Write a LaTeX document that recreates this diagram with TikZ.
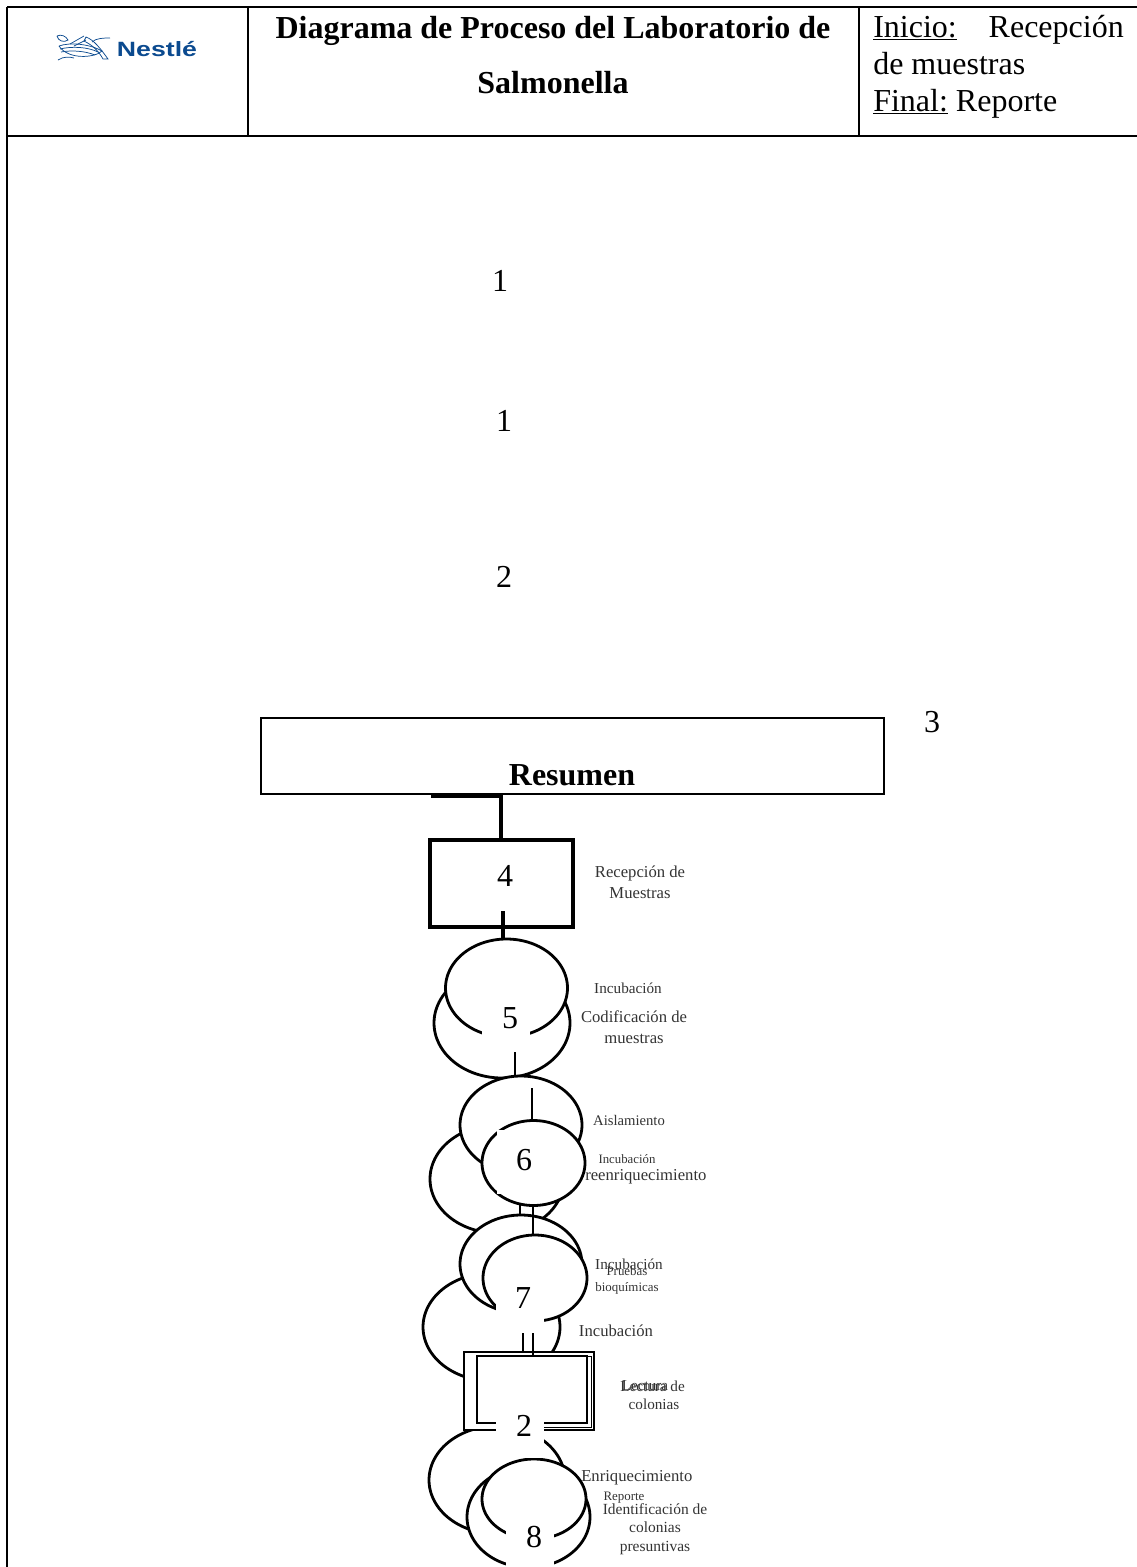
\documentclass[tikz,border=0pt]{standalone}
\usepackage{fontspec}
\setmainfont{Liberation Serif}
\newfontfamily\logofont{Liberation Sans}
\definecolor{nestleblue}{HTML}{0B4A8F}
\definecolor{captiongray}{HTML}{333333}
\tikzset{
  x=0.75pt,y=-0.75pt,
  frame/.style={line width=1.9pt,black},
  flow/.style={line width=2.1pt,black},
  thinflow/.style={line width=1.6pt,black},
  dbl/.style={line width=2pt,black},
  num/.style={font=\fontsize{24}{28}\selectfont,inner sep=0pt,anchor=center},
  head/.style={font=\fontsize{24}{28}\selectfont,inner sep=0pt},
  headb/.style={font=\bfseries\fontsize{24}{28}\selectfont,inner sep=0pt},
  capl/.style={font=\fontsize{12.5}{15.5}\selectfont,align=center,inner sep=0pt,text=captiongray},
  capm/.style={font=\fontsize{11.4}{14}\selectfont,align=center,inner sep=0pt,text=captiongray},
  capsm/.style={font=\fontsize{9.7}{12}\selectfont,align=center,inner sep=0pt,text=captiongray},
  mask/.style={fill=white,draw=none},
  blob/.style={flow,fill=white},
}
% full ellipse, white inside, in picture pixels: cx, cy, rx, ry
\newcommand{\blobat}[4]{\draw[blob] plot[domain=0:360,samples=120,smooth cycle] ({#1+#3*cos(\x)},{#2+#4*sin(\x)});}
\begin{document}
\begin{tikzpicture}
\useasboundingbox (0,0) rectangle (1137,1567);
% table frame
\coordinate (tl) at (7,7); \coordinate (tr) at (1137,7);
\coordinate (ml) at (7,136); \coordinate (mr) at (1137,136);
\coordinate (bl) at (7,1567);
\coordinate (c1t) at (248,7); \coordinate (c1b) at (248,136);
\coordinate (c2t) at (859,7); \coordinate (c2b) at (859,136);
\draw[frame] (tl)--(tr) (ml)--(mr) (tl)--(bl) (c1t)--(c1b) (c2t)--(c2b);
% logo
\node[inner sep=0pt,text=nestleblue,font=\logofont\bfseries\fontsize{15.5}{16}\selectfont] (logo) at (157,49) {\scalebox{1.29}[1]{Nestlé}};
\begin{scope}[nestleblue,line width=0.55pt]
\draw (59,46) .. controls (70,42) and (90,44) .. (102,51) .. controls (95,58) and (68,60) .. (59,46);
\draw (60,49) .. controls (72,46) and (88,47) .. (98,52);
\draw (61,52) .. controls (72,50) and (85,51) .. (95,55);
\draw (58,60) .. controls (64,56) and (70,57) .. (74,58);
\draw (86,37) .. controls (94,40) and (100,48) .. (108,59) -- (103,59) .. controls (98,50) and (92,45) .. (84,41) -- cycle;
\draw (92,42) .. controls (96,38) and (104,38) .. (110,38);
\draw (57,36) .. controls (61,34) and (66,36) .. (68,40) .. controls (64,43) and (58,41) .. (57,36);
\draw (70,44) -- (84,36) (74,46) -- (86,40);
\end{scope}
% header texts
\node[headb,anchor=base] (title1) at (553,38) {Diagrama de Proceso del Laboratorio de};
\node[headb,anchor=base] (title2) at (553,93.5) {Salmonella};
\node[head,anchor=base west] (ini) at (873,37) {\underline{Inicio:}};
\node[head,anchor=base east] (rec) at (1124,37) {Recepción};
\node[head,anchor=base west] (demu) at (873,74) {de muestras};
\node[head,anchor=base west] (fin) at (873,111) {\underline{Final:} Reporte};
% loose numbers
\node[num] (n1a) at (500,281) {1};
\node[num] (n1b) at (504,421) {1};
\node[num] (n2a) at (504,577) {2};
\node[num] (n3) at (932,722) {3};
% resumen box
\draw[line width=1.5pt] (261,718) rectangle (884,794);
\node[headb,anchor=base] (res) at (572,785) {Resumen};
% top connector and box 4
\coordinate (h1) at (431,796); \coordinate (h2) at (501,796); \coordinate (h3) at (501,840);
\draw[line width=2.3pt] (h1)--(h2)--(h3);
\draw[line width=2.3pt] (430,840) rectangle (573,927);
\draw[line width=2.3pt] (503,911)--(503,938);
% group 5
\blobat{502}{1023}{68}{55}
\blobat{506.5}{988}{61}{49}
\fill[mask] (482,1000) rectangle (530,1052);
% group 6
\blobat{497}{1179}{67}{54}
\blobat{521}{1125}{61}{49}
\draw[thinflow] (515,1052)--(515,1076);
\draw[thinflow] (532,1088)--(532,1121);
\blobat{533.5}{1163}{51.5}{42.5}
\fill[mask] (497,1130) rectangle (548,1194);
% group 7
\blobat{491.5}{1327}{68.5}{54}
\draw[thinflow] (520,1204)--(520,1216);
\blobat{521}{1264}{61}{49}
\draw[thinflow] (533,1204)--(533,1235);
\blobat{535}{1278}{52}{43}
\fill[mask] (496,1270) rectangle (544,1333);
% group 8
\blobat{497}{1480}{68}{54}
\begin{scope}
\clip (400,1400) rectangle (700,1567);
\blobat{528.5}{1517}{61.5}{50.5}
\blobat{534}{1499}{52}{40}
\end{scope}
\fill[mask] (506,1510) rectangle (554,1567);
% double box
\draw[dbl,fill=white] (464,1352) rectangle (594,1430);
\draw[line width=0.6pt] (587,1356)--(591,1356)--(591,1427)--(520,1427);
\draw[dbl] (477,1356) rectangle (587,1423);
\draw[thinflow] (523,1333)--(523,1352) (533,1333)--(533,1355);
\fill[mask] (496,1405) rectangle (544,1458);
% numbers
\node[num] (n4) at (505,876) {4};
\node[num] (n5) at (510,1018) {5};
\node[num] (n6) at (524,1160) {6};
\node[num] (n7) at (523,1298) {7};
\node[num] (n2b) at (524,1426) {2};
\node[num] (n8) at (534,1537) {8};
% captions
\node[capl] (t4) at (640,882) {Recepción de\\Muestras};
\node[capm] (t5a) at (628,988) {Incubación};
\node[capl] (t5b) at (634,1027) {Codificación de\\muestras};
\node[font=\fontsize{11}{14}\selectfont,inner sep=0pt,text=captiongray] (t6a) at (629,1120) {Aislamiento};
\node[font=\fontsize{9.6}{12}\selectfont,inner sep=0pt,text=captiongray] (t6b) at (627,1159) {Incubación};
\node[capl,anchor=west] (t6c) at (585,1177) {reenriquecimiento};
\node[capm] (t7a) at (629,1264) {Incubación};
\node[capsm] (t7b) at (627,1280) {Pruebas\\bioquímicas};
\node[capl] (t7c) at (616,1331) {Incubación};
\node[capm,anchor=west] (t8a) at (620,1386) {Lectura de};
\node[capm,anchor=west] (t8b) at (621.5,1386) {Lectura};
\node[capm] (t8c) at (654,1404) {colonias};
\node[capl,anchor=west] (t9a) at (581,1478) {Enriquecimiento};
\node[capsm] (t9b) at (624,1498) {Reporte};
\node[font=\fontsize{11.6}{14}\selectfont,align=center,inner sep=0pt,text=captiongray] (t9c) at (655,1529) {Identificación de\\colonias\\presuntivas};
\end{tikzpicture}
\end{document}
